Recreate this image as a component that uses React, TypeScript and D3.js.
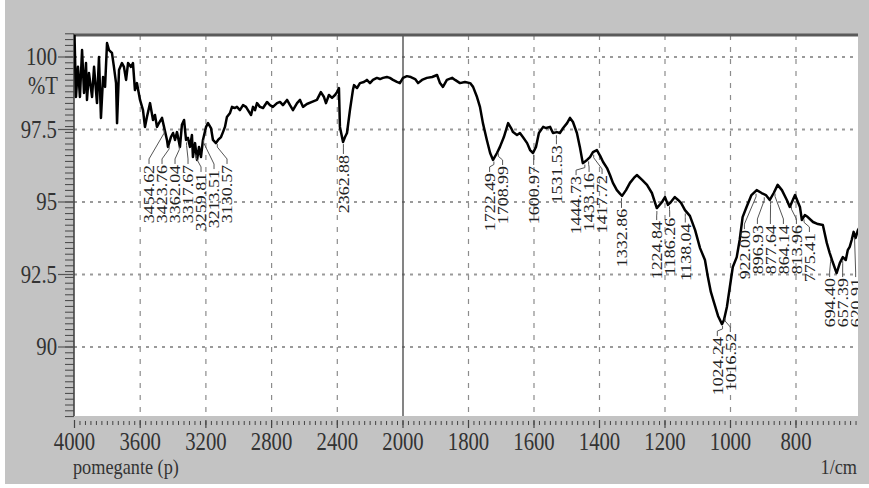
import React from 'react';
import * as d3 from 'd3';

const W = 869;
const H = 488;

// Spectrum: wavenumber (1/cm) and transmittance (%T)
const wavenumbers = [
  4000, 3991, 3979, 3967, 3954, 3942, 3930, 3924, 3912, 3893, 3881, 3863, 3851, 3839, 3826, 3814,
  3802, 3790, 3772, 3760, 3747, 3741, 3729, 3711, 3699, 3686, 3674, 3656, 3644, 3632, 3620, 3601,
  3583, 3571, 3559, 3540, 3522, 3510, 3498, 3486, 3467, 3455, 3437, 3431, 3413, 3400, 3388, 3376,
  3358, 3346, 3333, 3321, 3309, 3297, 3285, 3279, 3266, 3254, 3242, 3230, 3218, 3199, 3187, 3169,
  3157, 3139, 3126, 3108, 3096, 3084, 3072, 3053, 3041, 3023, 3011, 2993, 2974, 2956, 2944, 2925,
  2913, 2901, 2889, 2871, 2852, 2828, 2810, 2792, 2767, 2749, 2731, 2706, 2688, 2670, 2645, 2627,
  2609, 2585, 2554, 2524, 2500, 2481, 2469, 2451, 2432, 2414, 2402, 2390, 2384, 2365, 2353, 2341,
  2323, 2305, 2298, 2280, 2262, 2238, 2220, 2201, 2183, 2159, 2140, 2122, 2098, 2080, 2061, 2037,
  2019, 2000, 1988, 1976, 1963, 1954, 1942, 1927, 1911, 1896, 1887, 1878, 1866, 1850, 1841, 1826,
  1811, 1795, 1786, 1774, 1765, 1756, 1744, 1734, 1725, 1713, 1704, 1692, 1679, 1670, 1664, 1652,
  1643, 1634, 1621, 1612, 1603, 1594, 1585, 1572, 1563, 1551, 1542, 1530, 1521, 1511, 1499, 1490,
  1481, 1469, 1460, 1451, 1438, 1429, 1420, 1408, 1398, 1389, 1377, 1368, 1359, 1347, 1337, 1331,
  1319, 1307, 1295, 1286, 1270, 1255, 1240, 1225, 1209, 1200, 1191, 1182, 1170, 1160, 1151, 1139,
  1124, 1108, 1093, 1078, 1069, 1060, 1050, 1038, 1026, 1020, 1011, 1002, 993, 981, 972, 963,
  951, 936, 920, 905, 892, 880, 868, 856, 843, 828, 819, 803, 788, 782, 773, 764,
  748, 733, 718, 706, 697, 688, 676, 666, 657, 648, 642, 636, 630, 624, 618, 611, 605,
];

const transmittance = [
  100.76, 98.62, 99.66, 98.62, 100.24, 98.76, 99.79, 98.52, 99.45, 98.62, 99.66, 98.41, 100.0, 97.9, 99.31, 98.97,
  100.48, 100.24, 100.14, 99.66, 99.1, 97.72, 99.55, 99.79, 99.66, 99.21, 99.79, 99.66, 99.79, 98.86, 99.1, 98.52,
  98.17, 97.59, 97.93, 98.41, 97.83, 98.0, 97.59, 97.72, 97.9, 97.59, 97.14, 96.9, 97.24, 97.38, 97.14, 97.41,
  96.9, 97.66, 97.83, 97.14, 97.21, 96.9, 97.31, 96.55, 97.03, 96.45, 96.9, 96.55, 97.14, 97.59, 97.72, 97.55,
  97.14, 97.03, 97.14, 97.24, 97.41, 97.59, 97.93, 98.07, 98.28, 98.24, 98.28, 98.17, 98.34, 98.28, 98.17, 98.0,
  98.28, 98.17, 98.41, 98.28, 98.24, 98.45, 98.34, 98.28, 98.41, 98.45, 98.34, 98.52, 98.34, 98.17, 98.41, 98.52,
  98.28, 98.38, 98.45, 98.52, 98.79, 98.62, 98.41, 98.69, 98.59, 98.69, 98.79, 98.93, 97.59, 97.07, 97.24, 97.38,
  98.17, 98.86, 99.03, 98.93, 99.1, 99.14, 99.21, 99.1, 99.21, 99.28, 99.24, 99.28, 99.31, 99.28, 99.21, 99.14,
  99.1, 99.28, 99.34, 99.31, 99.24, 99.1, 99.21, 99.28, 99.31, 99.38, 99.1, 98.97, 99.21, 99.28, 99.21, 99.1,
  99.14, 99.1, 98.97, 98.62, 98.28, 97.72, 97.14, 96.69, 96.45, 96.69, 96.9, 97.24, 97.72, 97.55, 97.41, 97.31,
  97.38, 97.24, 97.03, 96.79, 96.69, 96.9, 97.38, 97.59, 97.55, 97.59, 97.38, 97.41, 97.38, 97.55, 97.72, 97.9,
  97.76, 97.38, 96.9, 96.34, 96.45, 96.55, 96.72, 96.79, 96.59, 96.38, 96.17, 95.93, 95.66, 95.41, 95.28, 95.21,
  95.41, 95.66, 95.83, 95.93, 95.76, 95.59, 95.31, 94.79, 95.0, 95.17, 94.9, 95.0, 95.17, 95.07, 94.97, 94.72,
  94.52, 94.03, 93.41, 93.0, 92.41, 91.9, 91.52, 91.07, 90.79, 90.93, 91.38, 92.07, 92.76, 93.1, 93.69, 94.48,
  94.83, 95.24, 95.41, 95.31, 95.24, 95.07, 95.31, 95.59, 95.41, 95.07, 94.83, 95.24, 94.83, 94.38, 94.55, 94.48,
  94.31, 94.24, 94.21, 93.59, 93.24, 92.93, 92.55, 92.9, 93.1, 93.0, 93.34, 93.45, 93.69, 93.97, 93.76, 94.03, 94.14,
];

// Annotated absorption peaks (1/cm)
const peakWavenumbers = [
  3454.62, 3423.76, 3362.04, 3317.67, 3259.81, 3213.51, 3130.57, 2362.88, 1722.49, 1708.99,
  1600.97, 1531.53, 1444.73, 1433.16, 1417.72, 1332.86, 1224.84, 1186.26, 1138.04, 1024.24,
  1016.52, 922.0, 896.93, 877.64, 864.14, 813.96, 775.41, 694.4, 657.39, 620.91,
];

const xTickValues = [4000, 3600, 3200, 2800, 2400, 2000, 1800, 1600, 1400, 1200, 1000, 800];
const yTickValues = [100, 97.5, 95, 92.5, 90];
const yTickLabels = ['100', '97.5', '95', '92.5', '90'];
const yAxisTitle = '%T';
const sampleName = 'pomegante (p)';
const xUnit = '1/cm';

const SERIF = '"Liberation Serif", "DejaVu Serif", serif';

export default function App() {
  const plot = { left: 74, top: 35, right: 858, bottom: 416 };
  // The spectrometer plots 4000-2000 at half the scale of 2000-400
  const x = d3.scaleLinear().domain([4000, 2000, 800]).range([74.5, 403, 796]);
  const y = d3.scaleLinear().domain([100, 90]).range([57, 347]);

  const points: [number, number][] = wavenumbers.map((w, i) => [w, transmittance[i]]);
  const linePath = d3
    .line<[number, number]>()
    .x((d) => x(d[0]))
    .y((d) => y(d[1]))(points) as string;

  // Transmittance at an arbitrary wavenumber (data is descending in wavenumber)
  const valueAt = (w: number) => {
    for (let i = 0; i < points.length - 1; i++) {
      const [w0, t0] = points[i];
      const [w1, t1] = points[i + 1];
      if (w <= w0 && w >= w1) return t0 + ((w0 - w) / (w0 - w1)) * (t1 - t0);
    }
    return points[points.length - 1][1];
  };

  // Lowest screen position of the trace within [lo, hi]
  const lowestIn = (lo: number, hi: number, start: number) => {
    let low = start;
    points.forEach(([w, t]) => {
      const xx = x(w);
      if (xx >= lo && xx <= hi) low = Math.max(low, y(t));
    });
    return low;
  };

  // Spread overlapping peak labels horizontally
  const gap = 13;
  type Cl = { idx: number[]; center: number };
  const px = peakWavenumbers.map((w) => x(w));
  const order = d3.range(px.length).sort((a, b) => px[a] - px[b]);
  const clusters: Cl[] = order.map((i) => ({ idx: [i], center: px[i] }));
  const bounds = (c: Cl) => {
    const half = ((c.idx.length - 1) * gap) / 2;
    return [c.center - half, c.center + half];
  };
  let merged = true;
  while (merged) {
    merged = false;
    for (let k = 0; k < clusters.length - 1; k++) {
      const a = clusters[k];
      const b = clusters[k + 1];
      if (bounds(a)[1] + gap > bounds(b)[0]) {
        const idx = a.idx.concat(b.idx);
        const center = d3.mean(idx, (i) => px[i]) as number;
        clusters.splice(k, 2, { idx, center });
        merged = true;
        break;
      }
    }
  }

  // Labels hang below the trace: each one clears its own column and the group's lowest dip
  const labels: { text: string; px: number; py: number; lx: number; ly: number }[] = [];
  clusters.forEach((c) => {
    const [b0, b1] = bounds(c);
    const pxs = c.idx.map((i) => px[i]);
    const groupLow = lowestIn(Math.min(b0, d3.min(pxs) as number) - 3, Math.max(b1, d3.max(pxs) as number) + 3, 0);
    c.idx.forEach((i, j) => {
      const lx = b0 + j * gap;
      const py = y(valueAt(peakWavenumbers[i]));
      const own = lowestIn(Math.min(lx, px[i]) - 3, Math.max(lx, px[i]) + 3, py);
      labels.push({ text: peakWavenumbers[i].toFixed(2), px: px[i], py, lx, ly: Math.max(own, groupLow - 8) + 13 });
    });
  });

  // Ruler ticks
  const bottomMinor: number[] = [];
  for (let k = 0; k < xTickValues.length; k++) {
    const a = xTickValues[k];
    const b = k < xTickValues.length - 1 ? xTickValues[k + 1] : 600;
    for (let s = 0; s < 12; s++) bottomMinor.push(a + ((b - a) * s) / 12);
  }
  const leftMinor = d3.range(87.6, 100.81, 0.2);

  return (
    <div style={{ position: 'fixed', left: 0, top: 0 }}>
      <svg width={W} height={H} style={{ display: 'block', background: '#ffffff' }}>
        <defs>
          <clipPath id="plotClip">
            <rect x={plot.left} y={plot.top} width={plot.right - plot.left} height={plot.bottom - plot.top} />
          </clipPath>
        </defs>
        <rect x={5} y={0} width={W - 5} height={484} fill="#c3c3c3" />
        <rect x={plot.left} y={plot.top} width={plot.right - plot.left} height={plot.bottom - plot.top} fill="#ffffff" />

        {/* grid */}
        {xTickValues.filter((v) => v !== 4000 && v !== 2000).map((v) => (
          <line key={'gx' + v} x1={x(v)} x2={x(v)} y1={plot.top} y2={plot.bottom} stroke="#8c8c8c" strokeWidth={1.2} strokeDasharray="5,7" />
        ))}
        {yTickValues.map((v) => (
          <line key={'gy' + v} x1={plot.left} x2={plot.right} y1={y(v)} y2={y(v)} stroke="#9a9a9a" strokeWidth={2} strokeDasharray="3,5" />
        ))}
        <line x1={x(2000)} x2={x(2000)} y1={plot.top} y2={plot.bottom} stroke="#505050" strokeWidth={1.4} />

        {/* frame */}
        <line x1={plot.left} x2={plot.right} y1={plot.top} y2={plot.top} stroke="#5a5a5a" strokeWidth={3} />
        <line x1={plot.left} x2={plot.left} y1={plot.top - 1} y2={plot.bottom} stroke="#3a3a3a" strokeWidth={1.5} />

        {/* left ruler */}
        {leftMinor.map((v, i) => (
          <line key={'lt' + i} x1={65} x2={plot.left} y1={y(v)} y2={y(v)} stroke="#444" strokeWidth={1} />
        ))}
        {yTickValues.map((v) => (
          <line key={'lM' + v} x1={58} x2={plot.left} y1={y(v)} y2={y(v)} stroke="#555" strokeWidth={1.2} />
        ))}
        {/* bottom ruler */}
        {bottomMinor.map((v, i) => (
          <line key={'bt' + i} x1={x(v)} x2={x(v)} y1={421} y2={425} stroke="#444" strokeWidth={1} />
        ))}
        {xTickValues.map((v) => (
          <line key={'bM' + v} x1={x(v)} x2={x(v)} y1={420} y2={428} stroke="#444" strokeWidth={1.2} />
        ))}

        {/* spectrum */}
        <g clipPath="url(#plotClip)">
          <path d={linePath} fill="none" stroke="#000" strokeWidth={2.5} strokeLinejoin="round" />
          {labels.map((l, i) => {
            const y0 = l.py + 3;
            const path =
              l.ly - 6 > y0 + 3
                ? `M${l.px},${y0}V${y0 + 3}L${l.lx},${l.ly - 6}V${l.ly - 1}`
                : `M${l.px},${y0}L${l.lx},${l.ly - 1}`;
            return (
              <g key={'pk' + i}>
                <path d={path} fill="none" stroke="#555" strokeWidth={1} />
                <text
                  transform={`translate(${l.lx},${l.ly}) rotate(-90) scale(1.12,0.95)`}
                  textAnchor="end"
                  dy="0.35em"
                  fontFamily={SERIF}
                  fontSize={16}
                  fill="#222"
                >
                  {l.text}
                </text>
              </g>
            );
          })}
        </g>

        {/* axis labels */}
        {xTickValues.map((v) => (
          <text key={'xl' + v} transform={`translate(${x(v)},450) scale(0.83,1)`} textAnchor="middle" fontFamily={SERIF} fontSize={25} fill="#333">
            {v}
          </text>
        ))}
        {yTickValues.map((v, i) => (
          <text key={'yl' + v} transform={`translate(57,${y(v) + 8}) scale(0.83,1)`} textAnchor="end" fontFamily={SERIF} fontSize={25} fill="#333">
            {yTickLabels[i]}
          </text>
        ))}
        <text transform={`translate(58,${y(99) + 8}) scale(0.83,1)`} textAnchor="end" fontFamily={SERIF} fontSize={25} fill="#333">
          {yAxisTitle}
        </text>
        <text transform="translate(73,474) scale(0.83,1)" fontFamily={SERIF} fontSize={22} fill="#333">
          {sampleName}
        </text>
        <text transform="translate(857,474) scale(0.83,1)" textAnchor="end" fontFamily={SERIF} fontSize={22} fill="#333">
          {xUnit}
        </text>
      </svg>
    </div>
  );
}
